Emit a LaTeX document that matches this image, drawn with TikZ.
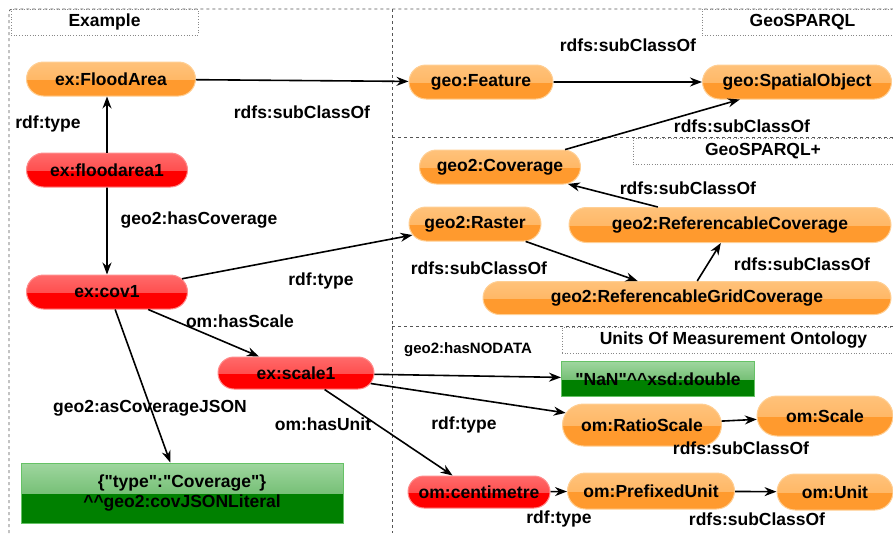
\documentclass[tikz,border=0pt]{standalone}
\usepackage{fontspec}
\setmainfont{Liberation Sans}
\usetikzlibrary{arrows.meta,shapes.misc}
\definecolor{orbase}{HTML}{FF9A2E}
\definecolor{ortop}{HTML}{FFC27A}
\definecolor{orline}{HTML}{FFCF94}
\definecolor{rdbase}{HTML}{FF0000}
\definecolor{rdtop}{HTML}{FF6A6A}
\definecolor{rdline}{HTML}{FF8C8C}
\definecolor{gnbase}{HTML}{008000}
\definecolor{gntop}{HTML}{9FD69F}
\definecolor{gnline}{HTML}{66C266}
\definecolor{framegray}{HTML}{555555}
\tikzset{
  every node/.style={font=\fontsize{17.5}{21}\selectfont\bfseries, inner sep=0pt},
  pill/.style={shape=rounded rectangle, line width=1pt},
  glossy/.style n args={3}{fill=#1, draw=#3, path picture={
      \shade[top color=#2, bottom color=#2!50!#1]
        (path picture bounding box.north west) rectangle (path picture bounding box.east);}},
  orpill/.style={pill, glossy={orbase}{ortop}{orline}},
  rdpill/.style={pill, glossy={rdbase}{rdtop}{rdline}},
  litbox/.style={shape=rectangle, line width=1pt, glossy={gnbase}{gntop}{gnline}, align=center},
  lbl/.style={fill=none},
  smalllbl/.style={font=\fontsize{15}{18}\selectfont\bfseries},
  rel/.style={line width=1.6pt, -{Stealth[length=12pt,width=9pt]}},
  framel/.style={draw=framegray, dashed, line width=0.7pt},
  titlebox/.style={draw=framegray!70, dotted, line width=0.7pt},
}
\begin{document}
\begin{tikzpicture}[x=1pt,y=-1pt]
\useasboundingbox (0,0) rectangle (893,533);
% frames
\draw[framel] (9,533) -- (9,12) [rounded corners=3pt] -- (9,9) -- (893,9);
\draw[framel] (392,9) -- (392,533);
\draw[framel] (392,137) -- (893,137);
\draw[framel] (392,326) -- (893,326);
% title boxes
\node[titlebox, minimum width=187pt, minimum height=26pt] (tex) at (104.5,22) {Example};
\node[titlebox, minimum width=191pt, minimum height=26pt] (tgeo) at (797.5,22) {\hspace*{10pt}GeoSPARQL};
\node[titlebox, minimum width=260pt, minimum height=26pt] (tgeop) at (763,151) {GeoSPARQL+};
\node[titlebox, minimum width=331pt, minimum height=26pt] (tuom) at (727.5,340) {\hspace*{12pt}Units Of Measurement Ontology};
% nodes
\node[orpill, minimum width=169pt, minimum height=34pt] (fa) at (111,79) {ex:FloodArea};
\node[rdpill, minimum width=161pt, minimum height=34pt] (fa1) at (107,170) {ex:floodarea1};
\node[rdpill, minimum width=161pt, minimum height=34pt] (cov1) at (107,292) {ex:cov1};
\node[rdpill, minimum width=156pt, minimum height=32pt] (scale1) at (296,373) {ex:scale1};
\node[litbox, minimum width=322pt, minimum height=60pt] (lit) at (182,493) {\{\textquotedbl type\textquotedbl :\textquotedbl Coverage\textquotedbl\}\\[-1pt]\textasciicircum\textasciicircum geo2:covJSONLiteral};
\node[orpill, minimum width=144pt, minimum height=34pt] (feature) at (481,82) {geo:Feature};
\node[orpill, minimum width=189pt, minimum height=34pt] (spatial) at (797,82) {geo:SpatialObject};
\node[orpill, minimum width=161pt, minimum height=34pt] (coverage) at (500,167) {geo2:Coverage};
\node[orpill, minimum width=132pt, minimum height=34pt] (raster) at (475,224) {geo2:Raster};
\node[orpill, minimum width=322pt, minimum height=35pt] (refcov) at (730,225) {geo2:ReferencableCoverage};
\node[orpill, minimum width=408pt, minimum height=33pt] (rgc) at (687,298) {geo2:ReferencableGridCoverage};
\node[litbox, minimum width=193pt, minimum height=35pt] (nan) at (658,379) {\textquotedbl NaN\textquotedbl\textasciicircum\textasciicircum xsd:double};
\node[orpill, minimum width=159pt, minimum height=42pt] (ratio) at (642,425) {om:RatioScale};
\node[orpill, minimum width=136pt, minimum height=40pt] (scale) at (825,416) {om:Scale};
\node[rdpill, minimum width=142pt, minimum height=32pt] (cm) at (479,492) {om:centimetre};
\node[orpill, minimum width=167pt, minimum height=36pt] (pu) at (651,491) {om:PrefixedUnit};
\node[orpill, minimum width=116pt, minimum height=36pt] (unit) at (835,492) {om:Unit};
% edges
\draw[rel] (fa1.north) -- (fa1.north |- fa.south);
\draw[rel] (fa) -- (feature);
\draw[rel] (fa1) -- (cov1);
\draw[rel] (cov1.10) -- (raster.190);
\draw[rel] (cov1.-23) -- (scale1.156);
\draw[rel] (cov1.-65) -- (lit.111);
\draw[rel] (feature) -- (spatial);
\draw[rel] (coverage.15) -- (spatial.197);
\draw[rel] (refcov.166) -- (coverage.-14);
\draw[rel] (raster.-19) -- (rgc.161);
\draw[rel] (rgc.59) -- (refcov.243);
\draw[rel] (scale1) -- (nan);
\draw[rel] (scale1.-8) -- (ratio.171);
\draw[rel] (scale1.-30) -- (cm.148);
\draw[rel] (ratio) -- (scale);
\draw[rel] (cm) -- (pu);
\draw[rel] (pu) -- (unit);
% labels
\node[lbl] (l1) at (48,124) {rdf:type};
\node[lbl] (l2) at (302,112) {rdfs:subClassOf};
\node[lbl] (l3) at (199,220) {geo2:hasCoverage};
\node[lbl] (l4) at (628,45) {rdfs:subClassOf};
\node[lbl] (l5) at (742,126) {rdfs:subClassOf};
\node[lbl] (l6) at (688,188) {rdfs:subClassOf};
\node[lbl] (l7) at (479,268) {rdfs:subClassOf};
\node[lbl] (l8) at (802,264) {rdfs:subClassOf};
\node[lbl] (l9) at (321,281) {rdf:type};
\node[lbl] (l10) at (240,321) {om:hasScale};
\node[lbl] (l11) at (150,408) {geo2:asCoverageJSON};
\node[lbl] (l12) at (323,424) {om:hasUnit};
\node[lbl, smalllbl] (l13) at (468,350) {geo2:hasNODATA};
\node[lbl] (l14) at (464,425) {rdf:type};
\node[lbl] (l15) at (741,448) {rdfs:subClassOf};
\node[lbl] (l16) at (559,519) {rdf:type};
\node[lbl] (l17) at (757,519) {rdfs:subClassOf};
\end{tikzpicture}
\end{document}
